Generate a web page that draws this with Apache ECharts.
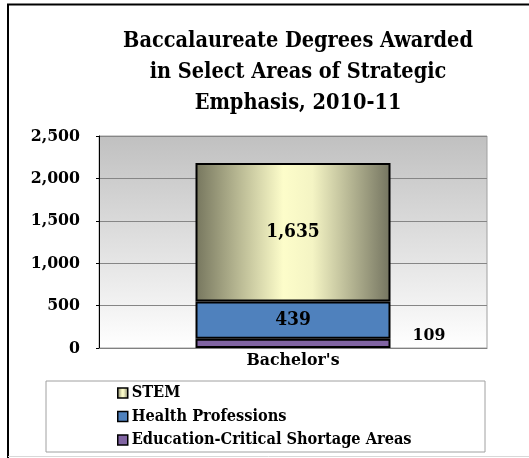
<!DOCTYPE html>
<html>
<head>
<meta charset="utf-8">
<script src="https://cdn.jsdelivr.net/npm/echarts@6/dist/echarts.min.js"></script>
<style>
  html, body { margin: 0; padding: 0; background: #fff; }
  #chart { width: 529px; height: 458px; }
</style>
</head>
<body>
<div id="chart"></div>
<script>
const categories = ["Bachelor's"]
const seriesNames = ['Education-Critical Shortage Areas', 'Health Professions', 'STEM']
const education = [109]
const health = [439]
const stem = [1635]
const yTicks = [0, 500, 1000, 1500, 2000, 2500]

const font = '"DejaVu Serif Condensed", "DejaVu Serif", serif'

const chart = echarts.init(document.getElementById('chart'))
chart.setOption({
  animation: false,
  title: {
    text: 'Baccalaureate Degrees Awarded\nin Select Areas of Strategic\nEmphasis, 2010-11',
    left: 293,
    top: 21,
    textAlign: 'center',
    textStyle: {
      fontFamily: font,
      fontWeight: 'bold',
      fontSize: 21.5,
      lineHeight: 31,
      color: '#000'
    }
  },
  grid: {
    left: 99,
    right: 42,
    top: 136,
    bottom: 110,
    show: true,
    borderColor: '#a0a0a0',
    borderWidth: 1,
    backgroundColor: {
      type: 'linear',
      x: 0, y: 0, x2: 0, y2: 1,
      colorStops: [
        { offset: 0, color: '#c0c0c0' },
        { offset: 1, color: '#ffffff' }
      ]
    }
  },
  legend: {
    orient: 'vertical',
    left: 112,
    top: 380,
    itemGap: 7.5,
    itemWidth: 10,
    itemHeight: 10,
    icon: 'rect',
    data: ['STEM', 'Health Professions', 'Education-Critical Shortage Areas'],
    textStyle: {
      fontFamily: font,
      fontWeight: 'bold',
      fontSize: 16.2,
      color: '#000',
      padding: [0, 0, 0, -1]
    },
    itemStyle: { borderColor: '#000', borderWidth: 1.5 }
  },
  xAxis: {
    type: 'category',
    data: categories,
    axisTick: { show: false },
    axisLine: { lineStyle: { color: '#808080' } },
    axisLabel: {
      fontFamily: font,
      fontWeight: 'bold',
      fontSize: 17.5,
      color: '#000',
      margin: 3
    }
  },
  yAxis: {
    type: 'value',
    min: yTicks[0],
    max: yTicks[yTicks.length - 1],
    interval: 500,
    axisLine: { show: true, lineStyle: { color: '#000', width: 1 } },
    axisTick: { show: true, length: 3, lineStyle: { color: '#000' } },
    splitLine: { lineStyle: { color: '#868686' } },
    axisLabel: {
      fontFamily: font,
      fontWeight: 'bold',
      fontSize: 17.5,
      color: '#000',
      margin: 19,
      formatter: v => v.toLocaleString('en-US')
    }
  },
  series: [
    {
      name: seriesNames[0],
      type: 'bar',
      stack: 'total',
      barWidth: 195,
      data: education,
      itemStyle: { color: '#8064a2', borderColor: '#000', borderWidth: 2 },
      label: {
        show: true,
        position: 'right',
        distance: 22,
        offset: [0, -8],
        fontFamily: font,
        fontWeight: 'bold',
        fontSize: 17.5,
        color: '#000'
      }
    },
    {
      name: seriesNames[1],
      type: 'bar',
      stack: 'total',
      data: health,
      itemStyle: { color: '#4f81bd', borderColor: '#000', borderWidth: 2 },
      label: {
        show: true,
        position: 'inside',
        fontFamily: font,
        fontWeight: 'bold',
        fontSize: 19,
        color: '#000'
      }
    },
    {
      name: seriesNames[2],
      type: 'bar',
      stack: 'total',
      data: stem,
      itemStyle: {
        color: {
          type: 'linear',
          x: 0, y: 0, x2: 1, y2: 0,
          colorStops: [
            { offset: 0, color: '#76765e' },
            { offset: 0.45, color: '#fdfdca' },
            { offset: 0.6, color: '#f4f4c4' },
            { offset: 1, color: '#747460' }
          ]
        },
        borderColor: '#000',
        borderWidth: 2
      },
      label: {
        show: true,
        position: 'inside',
        fontFamily: font,
        fontWeight: 'bold',
        fontSize: 19,
        color: '#000',
        formatter: p => p.value.toLocaleString('en-US')
      }
    }
  ],
  graphic: [
    {
      type: 'rect',
      z: -1,
      shape: { x: 46, y: 381, width: 439, height: 71 },
      style: { fill: '#fff', stroke: '#a0a0a0', lineWidth: 1 }
    },
    {
      type: 'polyline',
      shape: { points: [[8, 460], [8, 4.5], [529, 4.5]] },
      style: { fill: null, stroke: '#000', lineWidth: 2 }
    },
    {
      type: 'line',
      shape: { x1: 8, y1: 456.5, x2: 529, y2: 456.5 },
      style: { stroke: '#d8d8d8', lineWidth: 1 }
    }
  ]
})
</script>
</body>
</html>
